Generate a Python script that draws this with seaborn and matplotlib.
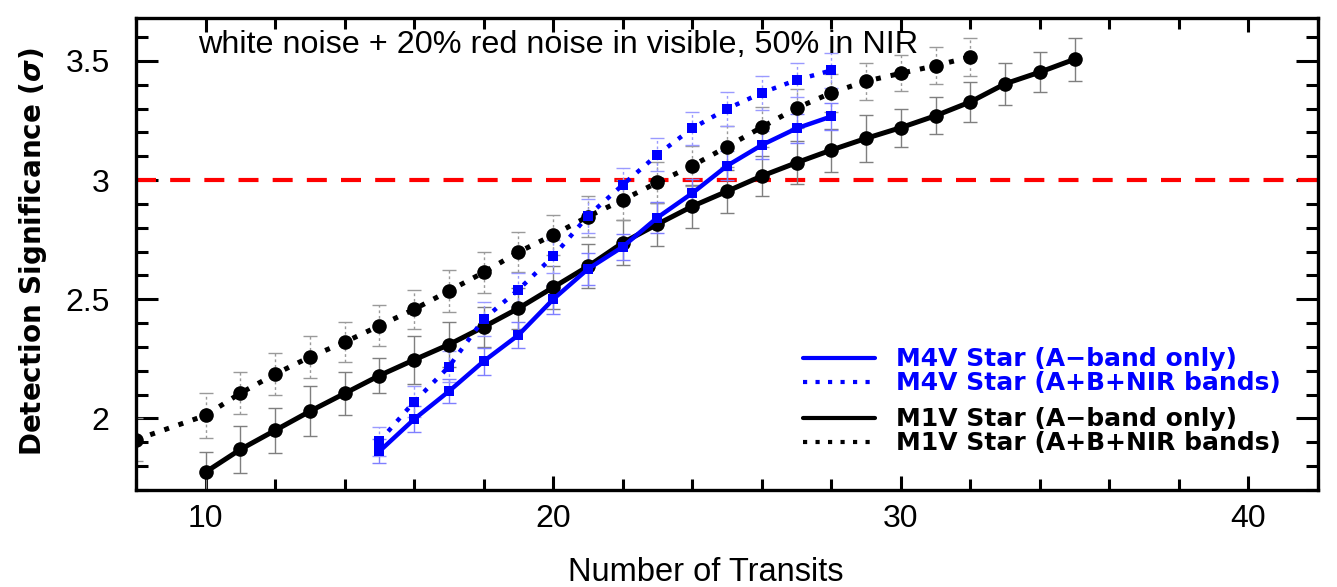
import numpy as np
import pandas as pd
import matplotlib
matplotlib.use("Agg")
import matplotlib.pyplot as plt
from matplotlib.lines import Line2D
from matplotlib.ticker import MultipleLocator
import seaborn as sns

# ---- data -------------------------------------------------------------
n_m1v_a = list(range(10, 36))
sig_m1v_a = [1.775, 1.870, 1.950, 2.030, 2.105, 2.180, 2.246, 2.310, 2.384,
             2.462, 2.550, 2.638, 2.737, 2.815, 2.890, 2.953, 3.017, 3.073,
             3.126, 3.175, 3.220, 3.270, 3.328, 3.404, 3.453, 3.507]
err_m1v_a = [0.085, 0.097, 0.093, 0.105, 0.090, 0.075, 0.100, 0.095, 0.085,
             0.085, 0.090, 0.092, 0.095, 0.090, 0.090, 0.090, 0.085, 0.090,
             0.090, 0.100, 0.080, 0.078, 0.085, 0.087, 0.085, 0.090]

n_m1v_all = [8] + list(range(10, 33))
sig_m1v_all = [1.911, 2.013, 2.106, 2.186, 2.258, 2.320, 2.389, 2.458, 2.535,
               2.613, 2.698, 2.770, 2.847, 2.917, 2.990, 3.060, 3.140, 3.222,
               3.302, 3.366, 3.415, 3.448, 3.480, 3.517]
err_m1v_all = [0.090, 0.093, 0.089, 0.088, 0.088, 0.085, 0.087, 0.083, 0.087,
               0.085, 0.085, 0.085, 0.085, 0.085, 0.085, 0.085, 0.085, 0.085,
               0.082, 0.080, 0.078, 0.075, 0.078, 0.080]

n_m4v_a = list(range(15, 29))
sig_m4v_a = [1.862, 1.997, 2.114, 2.240, 2.350, 2.500, 2.627, 2.720, 2.843,
             2.945, 3.060, 3.147, 3.217, 3.267]
err_m4v_a = [0.050, 0.055, 0.050, 0.057, 0.056, 0.060, 0.066, 0.055, 0.065,
             0.060, 0.060, 0.060, 0.060, 0.055]

n_m4v_all = list(range(15, 29))
sig_m4v_all = [1.904, 2.070, 2.217, 2.417, 2.540, 2.680, 2.850, 2.980, 3.107,
               3.217, 3.299, 3.366, 3.420, 3.460]
err_m4v_all = [0.060, 0.065, 0.065, 0.070, 0.070, 0.070, 0.070, 0.070, 0.070,
               0.070, 0.070, 0.070, 0.070, 0.072]

threshold = 3.0

labels_m4v = ["M4V Star (A\u2212band only)", "M4V Star (A+B+NIR bands)"]
labels_m1v = ["M1V Star (A\u2212band only)", "M1V Star (A+B+NIR bands)"]
note = "white noise + 20% red noise in visible, 50% in NIR"

# ---- figure -----------------------------------------------------------
sns.set_style("ticks")
plt.rcParams["font.family"] = ["Liberation Sans", "DejaVu Sans"]
plt.rcParams.update({"text.color": "black", "axes.labelcolor": "black",
                     "xtick.color": "black", "ytick.color": "black",
                     "xtick.labelcolor": "black", "ytick.labelcolor": "black"})

W, H = 1337, 587
fig = plt.figure(figsize=(W / 100, H / 100), dpi=100)
ax = fig.add_axes([136 / W, 1 - 490 / H, (1318 - 136) / W, (490 - 18) / H])

BLUE = "#0000ff"
DOT = (0, (1, 2))

ax.axhline(threshold, color="#ff0000", lw=3, dashes=(4.8, 3.4), zorder=1)


def series(n, sig, err, color, ecolor, marker, ms, lw, ls, dotted_err):
    eb = ax.errorbar(n, sig, yerr=err, fmt="none", ecolor=ecolor,
                     elinewidth=1.0, capsize=5, capthick=1.0, zorder=2)
    if dotted_err:
        eb.lines[2][0].set_linestyle((0, (2, 2)))
    df = pd.DataFrame({"n": n, "sig": sig})
    sns.lineplot(data=df, x="n", y="sig", ax=ax, color=color, linewidth=lw,
                 linestyle=ls, marker=marker, markersize=ms,
                 markeredgewidth=0, markerfacecolor=color, sort=False,
                 errorbar=None, zorder=3)


series(n_m1v_a, sig_m1v_a, err_m1v_a, "black", "#7f7f7f", "o", 10.5, 3.6, "-", False)
series(n_m1v_all, sig_m1v_all, err_m1v_all, "black", "#9a9a9a", "o", 10.5, 3.6, DOT, True)
series(n_m4v_a, sig_m4v_a, err_m4v_a, BLUE, "#7f7fff", "s", 7, 3.2, "-", False)
series(n_m4v_all, sig_m4v_all, err_m4v_all, BLUE, "#9a9aff", "s", 7, 3.2, DOT, True)

# ---- axes -------------------------------------------------------------
ax.set_xlim(8, 42)
ax.set_ylim(1.70, 3.68)
ax.xaxis.set_major_locator(MultipleLocator(10))
ax.xaxis.set_minor_locator(MultipleLocator(2))
ax.yaxis.set_major_locator(MultipleLocator(0.5))
ax.yaxis.set_minor_locator(MultipleLocator(0.1))
ax.set_yticks([2.0, 2.5, 3.0, 3.5])
ax.set_yticklabels(["2", "2.5", "3", "3.5"])

for s in ax.spines.values():
    s.set_linewidth(2.4)
    s.set_color("black")
    s.set_visible(True)

ax.tick_params(axis="x", which="major", direction="in", length=10, width=2.2,
               top=True, bottom=True, labelsize=23, pad=10)
ax.tick_params(axis="x", which="minor", direction="in", length=8, width=2.2,
               top=True, bottom=True)
ax.tick_params(axis="y", which="major", direction="in", length=16, width=2.2,
               left=True, right=True, labelsize=23, pad=19)
ax.tick_params(axis="y", which="minor", direction="in", length=8.5, width=2.2,
               left=True, right=True)

ax.set_xlabel("Number of Transits", fontsize=23.5)
ax.xaxis.set_label_coords((706 - 136) / 1182, -0.174)
ax.xaxis.label.set_va("center")
ax.set_ylabel("Detection Significance ($\\boldsymbol{\\sigma}$)", fontsize=20,
              fontweight="heavy", family="DejaVu Sans")
ax.yaxis.set_label_coords(-0.087, 0.504)
ax.yaxis.label.set_va("center")

ax.text(0.0525, 0.926, note, transform=ax.transAxes, fontsize=23.3,
        ha="left", va="baseline")

# ---- legends ----------------------------------------------------------
leg_kw = dict(frameon=False, loc="upper left", borderpad=0, borderaxespad=0,
              handlelength=2.9, handletextpad=0.85, labelspacing=0.0,
              prop={"family": "DejaVu Sans", "weight": "bold", "size": 18})
h_m4v = [Line2D([], [], color=BLUE, lw=3.0),
         Line2D([], [], color=BLUE, lw=3.0, linestyle=DOT)]
h_m1v = [Line2D([], [], color="black", lw=3.0),
         Line2D([], [], color="black", lw=3.0, linestyle=DOT)]
leg1 = ax.legend(h_m4v, labels_m4v, bbox_to_anchor=(0.564, 0.302),
                 labelcolor=BLUE, **leg_kw)
ax.add_artist(leg1)
ax.legend(h_m1v, labels_m1v, bbox_to_anchor=(0.564, 0.175),
          labelcolor="black", **leg_kw)

fig.savefig("out.png", dpi=100)
